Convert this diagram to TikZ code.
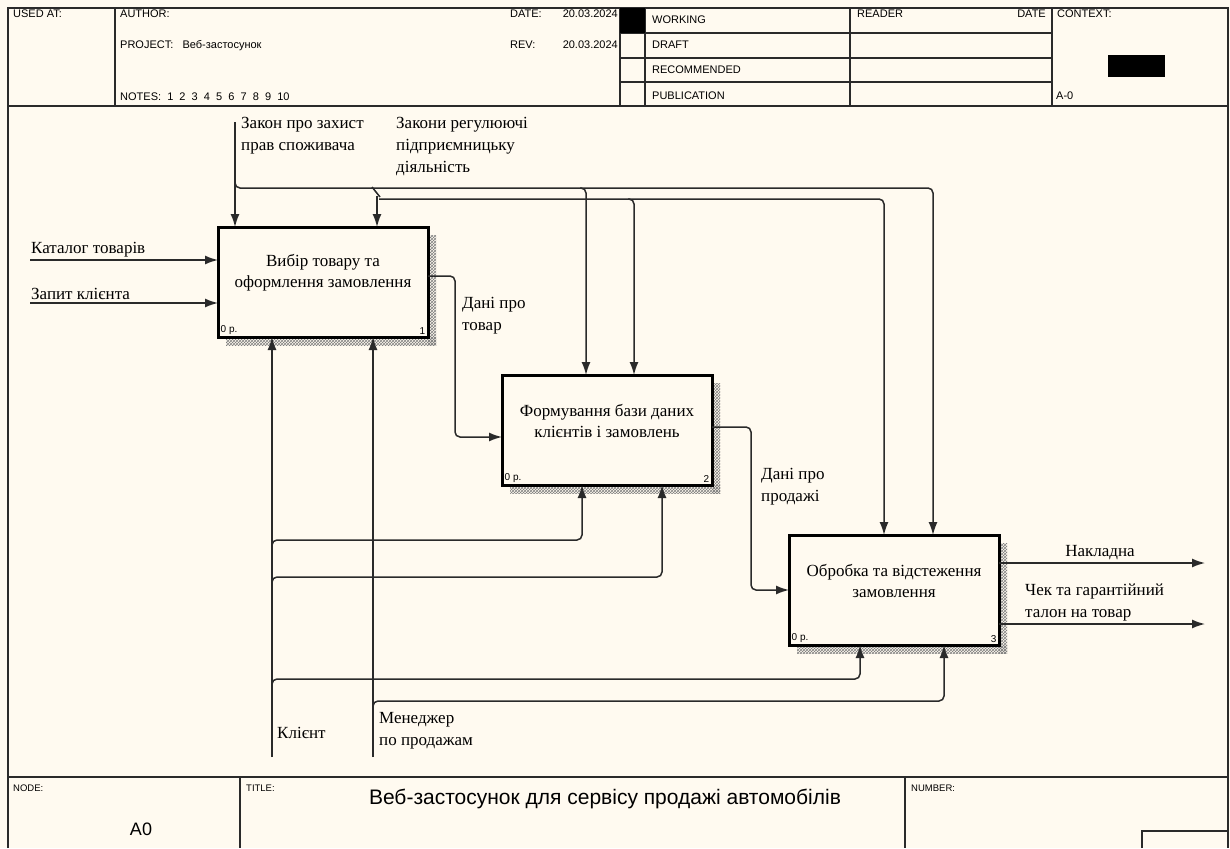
\documentclass[tikz,border=0pt]{standalone}
\usepackage{fontspec}
\setmainfont{Liberation Serif}
\newfontfamily\hdr{Liberation Sans}
\usetikzlibrary{arrows.meta,patterns}
\definecolor{bg}{HTML}{FFFAF0}
\definecolor{ln}{HTML}{2A2A2A}
\begin{document}
\begin{tikzpicture}[x=1pt,y=-1pt,
  line/.style={draw=ln, line width=1.5pt, rounded corners=5pt},
  arr/.style={line, -{Latex[length=13pt,width=9pt]}},
  frame/.style={draw=ln, line width=1.6pt},
  box/.style={draw=black, line width=3pt, fill=bg, minimum width=210pt, minimum height=110pt, inner sep=0pt, outer sep=0pt},
  boxtext/.style={font=\fontsize{17}{21}\selectfont, align=center, inner sep=0pt},
  lbl/.style={font=\fontsize{17}{22}\selectfont, align=left, inner sep=1pt},
  hd/.style={font=\hdr\fontsize{11}{12}\selectfont, inner sep=0pt},
  ft/.style={font=\hdr\fontsize{9.5}{10}\selectfont, inner sep=0pt},
  corner/.style={font=\hdr\fontsize{10}{10}\selectfont, inner sep=2.5pt},
  shadow/.style={pattern=crosshatch, pattern color=gray}
]
\fill[bg] (0,0) rectangle (1230,848);
\useasboundingbox (0,0) rectangle (1230,848);

% ---------- frame ----------
\draw[frame] (8,848) -- (8,8) -- (1228,8) -- (1228,848);
\draw[frame] (8,106) -- (1228,106);
\draw[frame] (115,8) -- (115,106);
\draw[frame] (620,8) -- (620,106);
\draw[frame] (645,8) -- (645,106);
\draw[frame] (850,8) -- (850,106);
\draw[frame] (1052,8) -- (1052,106);
\foreach \yy in {33,58,82} \draw[frame] (620,\yy) -- (1052,\yy);
\fill[black] (620,8) rectangle (645,33);
\fill[black] (1108,55) rectangle (1165,77);

\node[hd, anchor=base west] (usedat) at (13,18) {USED AT:};
\node[hd, anchor=base west] (author) at (120,18) {AUTHOR:};
\node[hd, anchor=base west] (project) at (120,49) {PROJECT:\ \ \ Веб-застосунок};
\node[hd, anchor=base west] (notes) at (120,101) {NOTES:\ \ 1\ \ 2\ \ 3\ \ 4\ \ 5\ \ 6\ \ 7\ \ 8\ \ 9\ \ 10};
\node[hd, anchor=base west] (date) at (510,18) {DATE:};
\node[hd, anchor=base east] (datev) at (618,18) {20.03.2024};
\node[hd, anchor=base west] (rev) at (510,49) {REV:};
\node[hd, anchor=base east] (revv) at (618,49) {20.03.2024};
\node[hd, anchor=base west] (working) at (652,24) {WORKING};
\node[hd, anchor=base west] (draft) at (652,49) {DRAFT};
\node[hd, anchor=base west] (recom) at (652,74) {RECOMMENDED};
\node[hd, anchor=base west] (publ) at (652,100) {PUBLICATION};
\node[hd, anchor=base west] (reader) at (857,18) {READER};
\node[hd, anchor=base east] (rdate) at (1046,18) {DATE};
\node[hd, anchor=base west] (context) at (1057,18) {CONTEXT:};
\node[hd, anchor=base west] (a0ctx) at (1056,100) {A-0};

% ---------- footer ----------
\draw[frame] (8,777) -- (1228,777);
\draw[frame] (240,777) -- (240,848);
\draw[frame] (905,777) -- (905,848);
\draw[frame] (1142,848) -- (1142,831) -- (1228,831);
\node[ft, anchor=base west] (nodelbl) at (13,791) {NODE:};
\node[ft, anchor=base west] (titlelbl) at (246,791) {TITLE:};
\node[ft, anchor=base west] (numlbl) at (911,791) {NUMBER:};
\node[font=\hdr\fontsize{18}{20}\selectfont, inner sep=0pt] (a0) at (141,829) {A0};
\node[font=\hdr\fontsize{21}{24}\selectfont, inner sep=0pt] (title) at (605,799) {Веб-застосунок для сервісу продажі автомобілів};

% ---------- boxes ----------
\coordinate (b1c) at (323,282);
\coordinate (b2c) at (607,430);
\coordinate (b3c) at (894,590);
\foreach \c in {b1c,b2c,b3c}{
  \fill[shadow] ([xshift=105pt,yshift=47pt]\c) rectangle ([xshift=113pt,yshift=-63pt]\c);
  \fill[shadow] ([xshift=-97pt,yshift=-55pt]\c) rectangle ([xshift=113pt,yshift=-63pt]\c);
}
\node[box] (b1) at (b1c) {};
\node[box] (b2) at (b2c) {};
\node[box] (b3) at (b3c) {};
\node[boxtext] (b1t) at ([yshift=9pt]b1.center) {Вибір товару та\\оформлення замовлення};
\node[boxtext] (b2t) at ([yshift=9pt]b2.center) {Формування бази даних\\клієнтів і замовлень};
\node[boxtext] (b3t) at ([yshift=9pt]b3.center) {Обробка та відстеження\\замовлення};
\node[corner, anchor=south west] (b1p) at (b1.south west) {0 p.};
\node[corner, anchor=south east] (b1n) at (b1.south east) {1};
\node[corner, anchor=south west] (b2p) at (b2.south west) {0 p.};
\node[corner, anchor=south east] (b2n) at (b2.south east) {2};
\node[corner, anchor=south west] (b3p) at (b3.south west) {0 p.};
\node[corner, anchor=south east] (b3n) at (b3.south east) {3};

% ---------- inputs ----------
\coordinate (in1) at (30,260);
\coordinate (in2) at (30,303);
\draw[arr] (in1) -- (b1.west |- in1);
\draw[arr] (in2) -- (b1.west |- in2);
\node[lbl, anchor=south west] (in1l) at ([yshift=2pt]in1) {Каталог товарів};
\node[lbl, anchor=south west] (in2l) at ([yshift=2pt]in2) {Запит клієнта};

% ---------- controls ----------
\coordinate (c1) at (235,122);
\draw[arr] (c1) -- (c1 |- b1.north);
\node[lbl, anchor=north west] (c1l) at (240,116) {Закон про захист\\прав споживача};
\node[lbl, anchor=north west] (c2l) at (395,116) {Закони регулюючі\\підприємницьку\\діяльність};
\draw[arr] (235,181) -- (235,188) -- (933,188) -- ([xshift=39pt]b3.north);
\draw[arr] (580,188) -- (586,188) -- ([xshift=-21pt]b2.north);
\draw[line, rounded corners=0pt] (372,187) -- (380,197);
\draw[arr] (379,199) -- (884,199) -- ([xshift=-10pt]b3.north);
\draw[arr] (377,196) -- ([xshift=54pt]b1.north);
\draw[arr] (628,199) -- (634,199) -- ([xshift=27pt]b2.north);

% ---------- outputs ----------
\draw[arr] ([yshift=6pt]b1.east) -- (455,276) -- (455,437) -- ([yshift=-7pt]b2.west);
\node[lbl, anchor=north west] (o1l) at (461,296) {Дані про\\товар};
\draw[arr] ([yshift=3pt]b2.east) -- (751,427) -- (751,590) -- (b3.west);
\node[lbl, anchor=north west] (o2l) at (760,467) {Дані про\\продажі};
\coordinate (o3) at (1205,563);
\coordinate (o4) at (1205,624);
\draw[arr] (b3.east |- o3) -- (o3);
\draw[arr] (b3.east |- o4) -- (o4);
\node[lbl, anchor=south] (o3l) at (1100,561) {Накладна};
\node[lbl, anchor=south west] (o4l) at (1024,622) {Чек та гарантійний\\талон на товар};

% ---------- mechanisms ----------
\coordinate (m1) at (272,757);
\coordinate (m2) at (373,757);
\draw[arr] (m1) -- (m1 |- b1.south);
\draw[arr] (m2) -- (m2 |- b1.south);
\node[lbl, anchor=west] (m1l) at (276,733) {Клієнт};
\node[lbl, anchor=north west] (m2l) at (378,711) {Менеджер\\по продажам};
\draw[arr] (272,546) -- (272,540) -- (582,540) -- ([xshift=-25pt]b2.south);
\draw[arr] (272,583) -- (272,577) -- (662,577) -- ([xshift=55pt]b2.south);
\draw[arr] (272,685) -- (272,679) -- (860,679) -- ([xshift=-34pt]b3.south);
\draw[arr] (373,707) -- (373,701) -- (944,701) -- ([xshift=50pt]b3.south);
\end{tikzpicture}
\end{document}
